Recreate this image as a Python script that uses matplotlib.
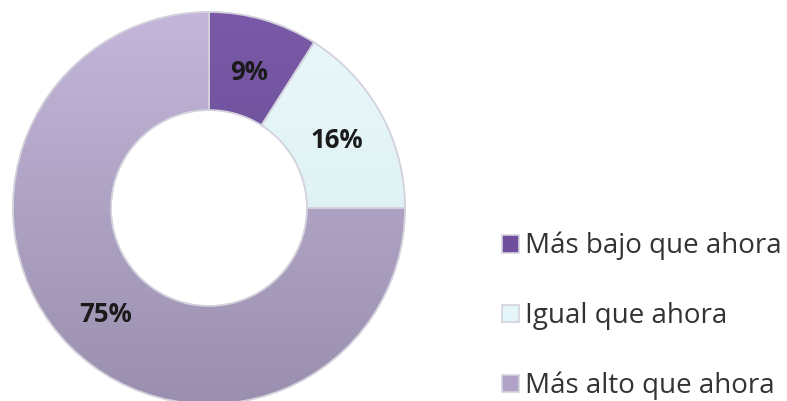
import matplotlib
matplotlib.use("Agg")
import matplotlib.pyplot as plt
import numpy as np
from matplotlib.colors import to_rgb
from matplotlib.patches import Wedge

categories = ["Más bajo que ahora", "Igual que ahora", "Más alto que ahora"]
values = [9, 16, 75]
labels = ["9%", "16%", "75%"]
colors = ["#6f4f9d", "#e3f5f8", "#b0a3c7"]
top_colors = ["#7a5aa8", "#eaf9fb", "#c3b6da"]
bottom_colors = ["#5f4388", "#d6eaee", "#9a8fae"]

fig = plt.figure(figsize=(7.87, 4.01), dpi=100)
ax = fig.add_axes([0, 0, 1, 1])
W, H = 787, 401
cx, cy, R = 209, H - 208, 196

wedges, texts = ax.pie(values, colors=colors, startangle=90, counterclock=False,
                       center=(cx, cy), radius=R,
                       wedgeprops=dict(width=R * 0.5, edgecolor="#d4d2dc", linewidth=1.2))
ax.set_xlim(0, W)
ax.set_ylim(0, H)
ax.set_aspect("equal")
ax.axis("off")

# vertical shading inside each wedge
t = np.linspace(0, 1, 256)[:, None]
for w, c1, c2 in zip(wedges, top_colors, bottom_colors):
    a, b = np.array(to_rgb(c1)), np.array(to_rgb(c2))
    img = (a[None, None, :] * (1 - t[:, :, None]) + b[None, None, :] * t[:, :, None])
    img = np.repeat(img, 2, axis=1)
    im = ax.imshow(img, extent=(cx - R, cx + R, cy - R, cy + R), origin="upper",
                   aspect="auto", zorder=w.get_zorder() + 0.1, interpolation="bilinear")
    im.set_clip_path(w)
ax.set_xlim(0, W)
ax.set_ylim(0, H)
for w in wedges:
    ax.add_patch(Wedge(w.center, w.r, w.theta1, w.theta2, width=w.width,
                       facecolor="none", edgecolor="#d4d2dc", linewidth=1.2, zorder=3))

label_pos = [(249, 72), (337, 140), (106, 314)]
for lab, (x, y) in zip(labels, label_pos):
    ax.text(x, H - y, lab, ha="center", va="center", fontsize=18.5, fontweight="bold",
            color="#1a1a1a", family="Open Sans", zorder=5)

leg = ax.legend(wedges, categories, loc="upper left", bbox_to_anchor=(477 / W, 1 - 207 / H),
                frameon=False, handlelength=0.6, handleheight=0.6, handletextpad=0.22,
                labelspacing=1.5, prop={"family": "Open Sans", "size": 20})
for tx in leg.get_texts():
    tx.set_color("#333333")

fig.savefig("out.png", dpi=100)
